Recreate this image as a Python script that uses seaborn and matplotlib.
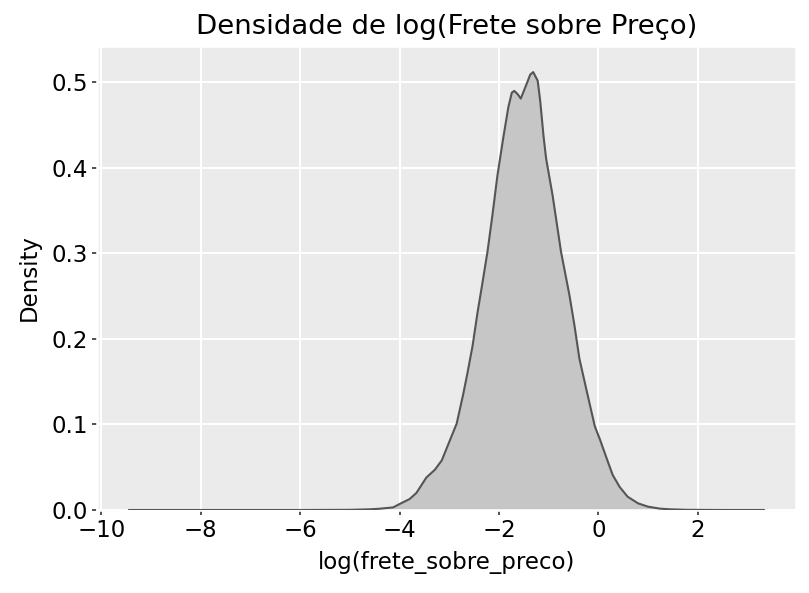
import numpy as np
import pandas as pd
import seaborn as sns
import matplotlib
matplotlib.use("Agg")
import matplotlib.pyplot as plt

# Density curve (x = log(frete_sobre_preco))
x_vals = [-9.45, -8.0, -6.0, -5.0, -4.6, -4.4, -4.13, -4.0, -3.8, -3.66, -3.46,
          -3.29, -3.15, -2.99, -2.85, -2.72, -2.63, -2.53, -2.43, -2.33, -2.23,
          -2.13, -2.03, -1.91, -1.81, -1.74, -1.69, -1.62, -1.56, -1.45, -1.37,
          -1.31, -1.22, -1.17, -1.10, -1.05, -0.92, -0.75, -0.58, -0.48, -0.38,
          -0.24, -0.07, 0.03, 0.19, 0.29, 0.43, 0.59, 0.80, 1.0, 1.24, 1.44,
          1.8, 2.5, 3.34]
density_vals = [0.0, 0.0, 0.0, 0.0002, 0.0008, 0.0015, 0.003, 0.007, 0.0127,
                0.020, 0.038, 0.047, 0.058, 0.081, 0.101, 0.135, 0.161, 0.192,
                0.231, 0.266, 0.302, 0.345, 0.391, 0.436, 0.471, 0.488, 0.490,
                0.486, 0.481, 0.497, 0.509, 0.512, 0.502, 0.479, 0.436, 0.411,
                0.368, 0.302, 0.251, 0.216, 0.177, 0.141, 0.098, 0.083, 0.057,
                0.041, 0.027, 0.0156, 0.0078, 0.0039, 0.0016, 0.0008, 0.0002,
                0.0, 0.0]

title = "Densidade de log(Frete sobre Preço)"
x_label = "log(frete_sobre_preco)"
y_label = "Density"

df = pd.DataFrame({"x": x_vals, "density": density_vals})

sns.set_theme(style="darkgrid", rc={
    "axes.facecolor": "#EBEBEB",
    "grid.color": "white",
    "grid.linewidth": 1.0,
    "xtick.bottom": True,
    "ytick.left": True,
    "xtick.major.size": 2.5,
    "ytick.major.size": 2.5,
    "xtick.major.width": 0.8,
    "ytick.major.width": 0.8,
    "xtick.color": "#333333",
    "ytick.color": "#333333",
    "xtick.labelcolor": "black",
    "ytick.labelcolor": "black",
    "axes.labelcolor": "black",
    "text.color": "black",
})
plt.rcParams["font.family"] = ["DejaVu Sans"]

fig = plt.figure(figsize=(809 / 150, 593 / 150), dpi=150)
ax = fig.add_axes([97 / 809, 83 / 593, 699 / 809, 464 / 593])

ax.fill_between(df["x"], df["density"], color="#C6C6C6", linewidth=0, zorder=2)
sns.lineplot(data=df, x="x", y="density", color="#555555", linewidth=1.0, ax=ax, zorder=3)

ax.set_xlim(-10.09, 3.98)
ax.set_ylim(0, 0.5425)
ax.set_xticks([-10, -8, -6, -4, -2, 0, 2])
ax.set_yticks([0.0, 0.1, 0.2, 0.3, 0.4, 0.5])
ax.tick_params(labelsize=11, pad=2)
ax.set_title(title, fontsize=13.2, pad=6)
ax.set_xlabel(x_label, fontsize=11, labelpad=4)
ax.set_ylabel(y_label, fontsize=11, labelpad=5)

fig.savefig("out.png", dpi=150)
